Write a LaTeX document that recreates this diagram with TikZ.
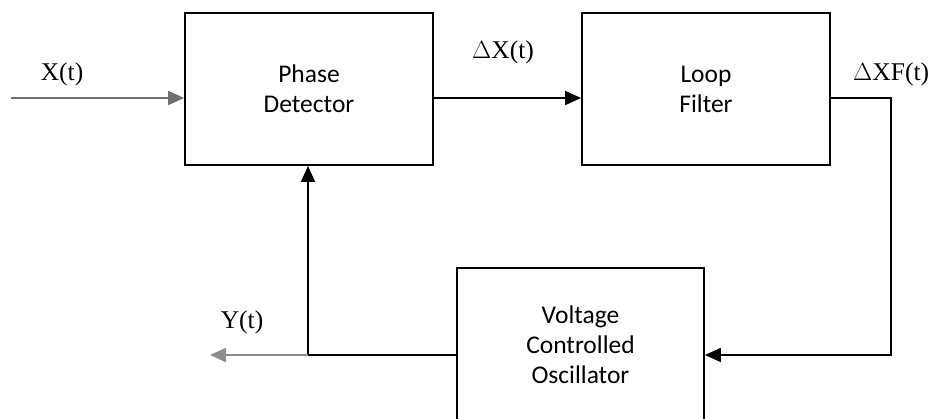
\documentclass[tikz,border=0pt]{standalone}
\usepackage{fontspec}
\setmainfont{Liberation Serif}
\newfontfamily\boxfont{Carlito}
\usetikzlibrary{arrows.meta}
\definecolor{ingray}{RGB}{112,112,112}
\definecolor{outgray}{RGB}{140,140,140}
\begin{document}
\begin{tikzpicture}[x=1pt,y=-1pt,
  blk/.style={draw=black,line width=1.8pt,fill=white,inner sep=0pt,
    font=\boxfont\fontsize{25.5}{30}\selectfont,align=center},
  conn/.style={line width=1.8pt,black},
  tip/.style={-{Triangle[length=16pt,width=14pt]}},
  lbl/.style={font=\fontsize{25.5}{30}\selectfont,inner sep=0pt}]
\useasboundingbox (0,0) rectangle (931,418);
\node[blk,minimum width=248pt,minimum height=152pt] (pd) at (309,89) {Phase\\Detector};
\node[blk,minimum width=248pt,minimum height=152pt] (lf) at (706,89) {Loop\\Filter};
\node[blk,minimum width=247pt,minimum height=154pt] (vco) at (580.5,345) {Voltage\\Controlled\\Oscillator};
\coordinate (in) at (11,98);
\coordinate (rc) at (891,98);
\coordinate (split) at (308,355);
\coordinate (out) at (210,355);
\draw[conn,ingray,tip] (in) -- (pd.west |- in);
\draw[conn,tip] (pd.east |- in) -- (lf.west |- in);
\draw[conn,tip] (lf.east |- rc) -- (rc) |- (vco.east |- split);
\draw[conn] (vco.west |- split) -- (split);
\draw[conn,tip] (split) -- (split |- pd.south);
\draw[conn,outgray,tip] (split) -- (out);
\node[lbl] (xl) at (62,74) {X(t)};
\node[lbl] (dxl) at (503,52) {$\Delta$X(t)};
\node[lbl,anchor=west] (dxfl) at (853,74) {$\Delta$XF(t)};
\node[lbl] (yl) at (242,322) {Y(t)};
\end{tikzpicture}
\end{document}
